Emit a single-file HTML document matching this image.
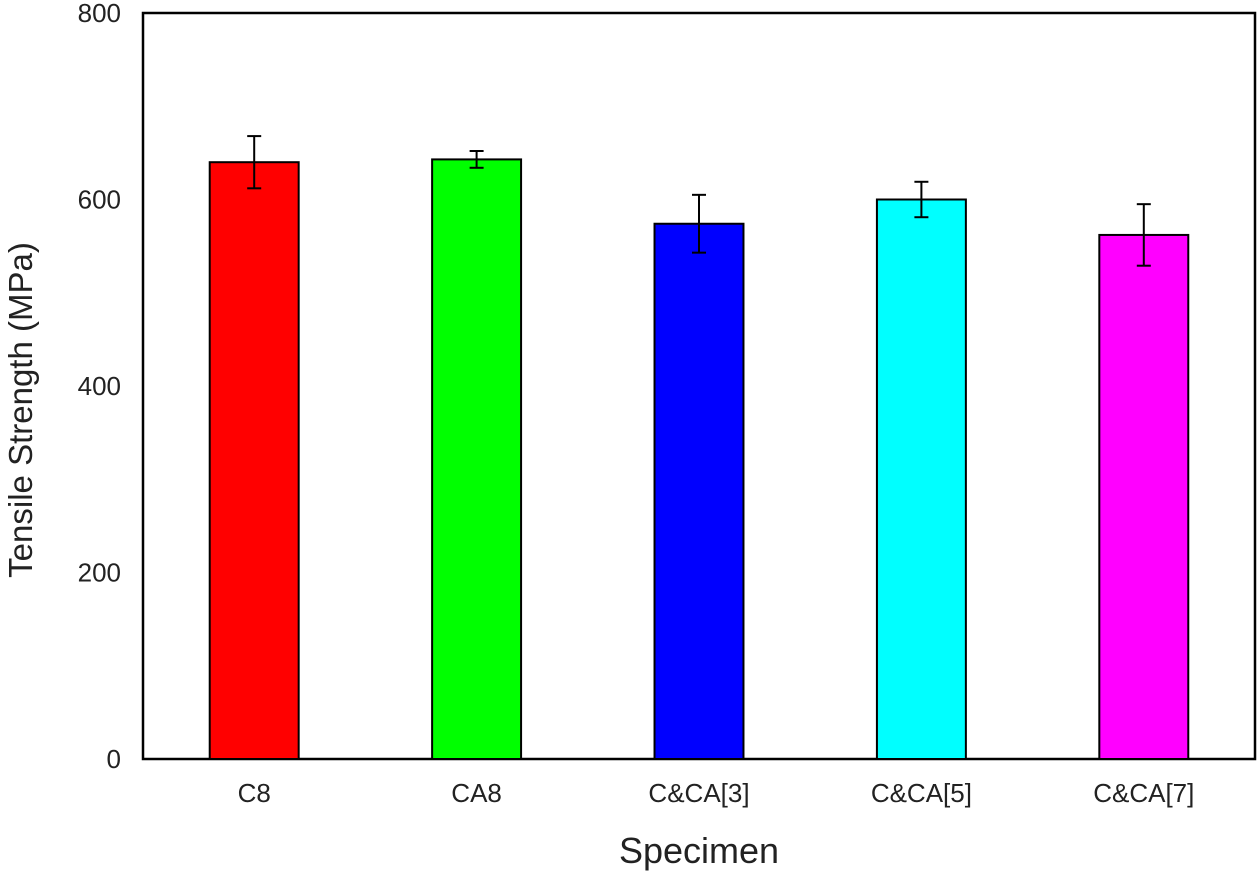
<!DOCTYPE html>
<html><head><meta charset="utf-8"><style>
html,body{margin:0;padding:0;background:#fff;}
svg{display:block;font-family:"Liberation Sans",sans-serif;}
</style></head><body>
<svg id="chart" width="1260" height="873">
<rect x="143" y="13" width="1112" height="746" fill="none" stroke="#000" stroke-width="2.5"/>
<g id="bars"></g>
<g id="yticks"></g>
<text x="0" y="0" transform="translate(32,410) rotate(-90)" text-anchor="middle" font-size="33" fill="#222">Tensile Strength (MPa)</text>
<text x="699" y="863" text-anchor="middle" font-size="36" fill="#222">Specimen</text>
</svg>
<script>
const categories = ["C8","CA8","C&CA[3]","C&CA[5]","C&CA[7]"];
const values = [640, 643, 574, 600, 562];
const errors = [28, 9, 31, 19, 33];
const colors = ["#ff0000","#00ff00","#0000ff","#00ffff","#ff00ff"];
const yTicks = [0, 200, 400, 600, 800];

const L=143,R=1255,T=13,B=759,YMAX=800;
const ns="http://www.w3.org/2000/svg";
const y=v=>B-(v/YMAX)*(B-T);
const band=(R-L)/categories.length;
const xc=i=>L+band*(i+0.5);
const bw=band*0.4;
const gb=document.getElementById('bars');
function mk(tag,attrs,parent){const e=document.createElementNS(ns,tag);for(const k in attrs)e.setAttribute(k,attrs[k]);parent.appendChild(e);return e;}
categories.forEach((c,i)=>{
  const r=mk('rect',{x:xc(i)-bw/2,y:y(values[i]),width:bw,height:B-y(values[i]),fill:colors[i],stroke:'#000','stroke-width':2},gb);
  
  
  const g=mk('g',{stroke:'#000','stroke-width':2},gb);
  
  
  const yt=y(values[i]+errors[i]),yb=y(values[i]-errors[i]);
  mk('line',{x1:xc(i),x2:xc(i),y1:yt,y2:yb},g);
  mk('line',{x1:xc(i)-7,x2:xc(i)+7,y1:yt,y2:yt},g);
  mk('line',{x1:xc(i)-7,x2:xc(i)+7,y1:yb,y2:yb},g);
  const t=mk('text',{x:xc(i),y:802,'text-anchor':'middle','font-size':26,fill:'#222'},gb);
  t.textContent=c;
  
  
});
const gy=document.getElementById('yticks');
yTicks.forEach(v=>{
  const t=mk('text',{x:121,y:y(v)+9,'text-anchor':'end','font-size':26,fill:'#222'},gy);
  t.textContent=v;
  
  
});
</script>
</body></html>
